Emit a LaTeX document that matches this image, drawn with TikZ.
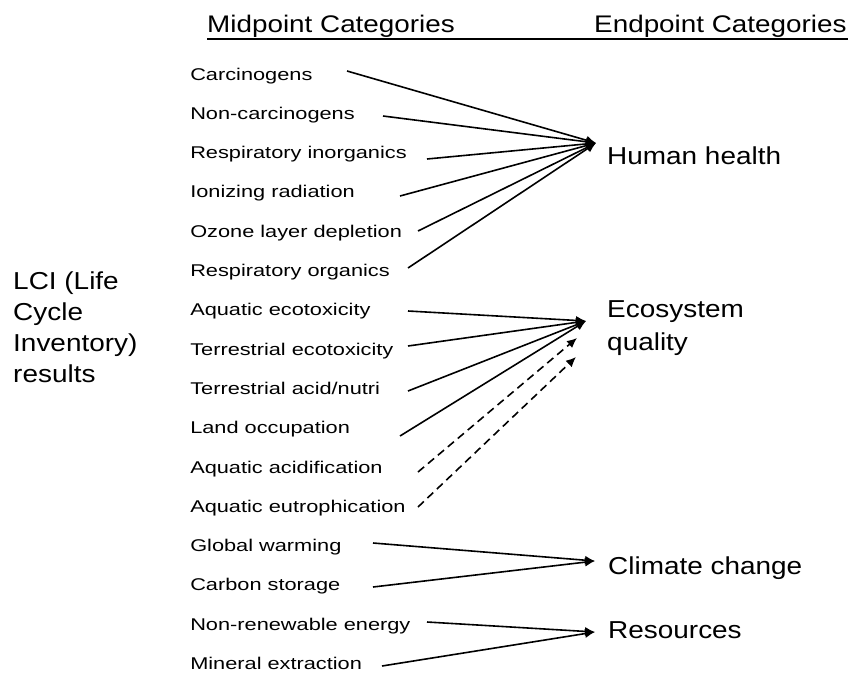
\documentclass[tikz,border=0pt]{standalone}
\usepackage{fontspec}
\setmainfont{Liberation Sans}
\usetikzlibrary{arrows.meta}
\tikzset{
  midcat/.style={anchor=base west, inner sep=0pt, xscale=1.28,
    font=\fontsize{17}{20}\selectfont},
  endcat/.style={anchor=base west, inner sep=0pt, xscale=1.14, align=left,
    font=\fontsize{24.5}{31}\selectfont},
  heading/.style={anchor=base west, inner sep=0pt, xscale=1.16,
    font=\fontsize{24}{28}\selectfont},
  link/.style={line width=1.6pt, -{Latex[length=10pt,width=9pt]}},
  dashlink/.style={link, dash pattern=on 8pt off 5pt},
}

\begin{document}
\begin{tikzpicture}[x=1pt,y=-1pt]
\useasboundingbox (0,0) rectangle (848,672);

    %% headings, one rule under both
    \node (midhead) [heading] at (207,32) {Midpoint Categories};
    \node (endhead) [heading] at (594,32) {Endpoint Categories};
    \coordinate (rulel) at (207,39);
    \coordinate (ruler) at (848,39);
    \draw[line width=1.4pt] (rulel) -- (ruler);

    %% inventory (base = last line)
    \node (lci) [endcat] at (13,382) {LCI (Life\\Cycle\\Inventory)\\results};

    %% midpoint categories
    \foreach \txt [count=\i] in {Carcinogens, Non-carcinogens,
      Respiratory inorganics, Ionizing radiation, Ozone layer depletion,
      Respiratory organics, Aquatic ecotoxicity, Terrestrial ecotoxicity,
      Terrestrial acid/nutri, Land occupation, Aquatic acidification,
      Aquatic eutrophication, Global warming, Carbon storage,
      Non-renewable energy, Mineral extraction}
    { \node (m\i) [midcat] at (190,{80+39.3*(\i-1)}) {\txt};}

    %% endpoint categories
    \node (health) [endcat] at (607,164) {Human health};
    \node (ecosys) [endcat, font=\fontsize{24.5}{33}\selectfont] at (607,350)
      {Ecosystem\\quality};
    \node (climate) [endcat] at (608,574) {Climate change};
    \node (resources) [endcat] at (608,638) {Resources};

    %% arrow tips
    \coordinate (hh) at (596,143);
    \coordinate (eq) at (586,321);
    \coordinate (eqa) at (577,338);
    \coordinate (eqb) at (576,357);
    \coordinate (cc) at (595,561);
    \coordinate (rs) at (595,632);

    \foreach \i/\x/\y/\t in {1/347/71/hh, 2/383/116/hh, 3/427/159/hh,
      4/400/196/hh, 5/418/231/hh, 6/408/268/hh, 7/408/311/eq, 8/408/346/eq,
      9/408/391/eq, 10/400/436/eq, 13/373/543/cc, 14/373/587/cc,
      15/427/622/rs, 16/382/666/rs}
    { \coordinate (s\i) at (\x,\y);
      \draw[link] (s\i) -- (\t);}
    \foreach \i/\x/\y/\t in {11/418/472/eqa, 12/418/507/eqb}
    { \coordinate (s\i) at (\x,\y);
      \draw[dashlink] (s\i) -- (\t);}

\end{tikzpicture}
\end{document}
